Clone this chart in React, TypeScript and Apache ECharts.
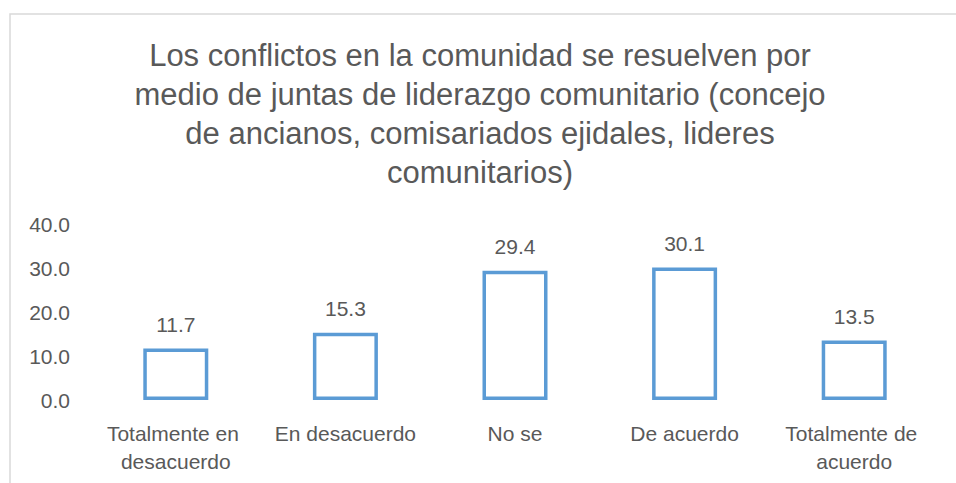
import React, { useEffect, useRef } from "react";
import * as echarts from "echarts";

const titleText =
  "Los conflictos en la comunidad se resuelven por\nmedio de juntas de liderazgo comunitario (concejo\nde ancianos, comisariados ejidales, lideres\ncomunitarios)";
const categories = [
  "Totalmente en desacuerdo",
  "En desacuerdo",
  "No se",
  "De acuerdo",
  "Totalmente de acuerdo",
];
const values = [11.7, 15.3, 29.4, 30.1, 13.5];

const FONT = "'Liberation Sans', Arial, sans-serif";
const TEXT = "#595959";

export default function App() {
  const ref = useRef<HTMLDivElement>(null);
  useEffect(() => {
    document.body.style.margin = "0";
    const chart = echarts.init(ref.current!, null, { renderer: "svg" });
    chart.setOption({
      animation: false,
      backgroundColor: "#ffffff",
      textStyle: { fontFamily: FONT },
      title: {
        text: titleText,
        left: 475,
        textAlign: "center",
        top: 31,
        textStyle: {
          fontFamily: FONT,
          fontSize: 31,
          fontWeight: "normal",
          color: TEXT,
          lineHeight: 39,
        },
      },
      graphic: [
        {
          type: "rect",
          shape: { x: 10, y: 14, width: 1200, height: 1000 },
          style: { fill: "none", stroke: "#d9d9d9", lineWidth: 1.5 },
          silent: true,
        },
      ],
      grid: { left: 91, right: 17, top: 224, bottom: 83 },
      xAxis: {
        type: "category",
        data: categories,
        axisLine: { show: false },
        axisTick: { show: false },
        axisLabel: {
          color: TEXT,
          fontSize: 21,
          fontFamily: FONT,
          margin: 19,
          lineHeight: 28,
          width: 160,
          overflow: "break",
          interval: 0,
        },
      },
      yAxis: {
        type: "value",
        min: 0,
        max: 40,
        interval: 10,
        splitLine: { show: false },
        axisLine: { show: false },
        axisTick: { show: false },
        axisLabel: {
          color: TEXT,
          fontSize: 21,
          fontFamily: FONT,
          margin: 21,
          formatter: (v: number) => v.toFixed(1),
        },
      },
      series: [
        {
          type: "bar",
          data: values,
          barWidth: 65,
          itemStyle: { color: "#ffffff", borderColor: "#5B9BD5", borderWidth: 3.5 },
          label: {
            show: true,
            position: "top",
            distance: 14,
            color: TEXT,
            fontSize: 21,
            fontFamily: FONT,
            formatter: (p: any) => Number(p.value).toFixed(1),
          },
        },
      ],
    });
    return () => chart.dispose();
  }, []);
  return <div ref={ref} style={{ width: 956, height: 483 }} />;
}
